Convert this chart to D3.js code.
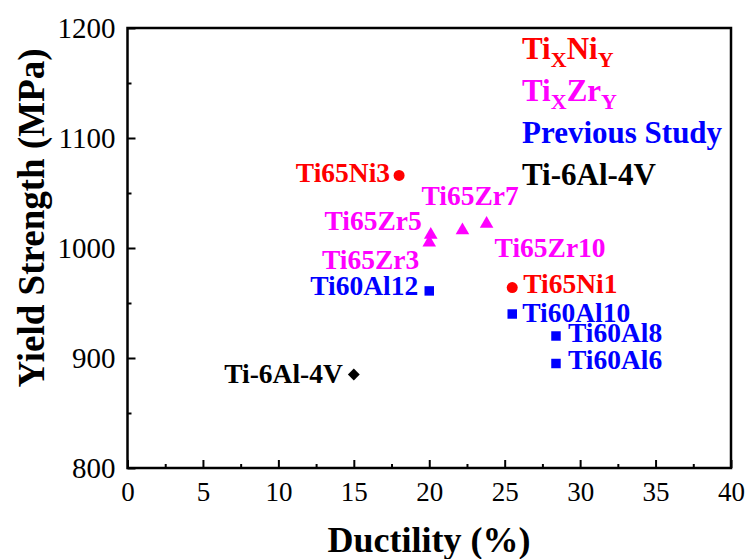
<!DOCTYPE html>
<html>
<head>
<meta charset="utf-8">
<script src="https://cdn.jsdelivr.net/npm/d3@7"></script>
<style>
  text, tspan { font-family: 'Liberation Serif', 'Times New Roman', serif !important; }
</style>
</head>
<body style="margin:0">
<svg id="canvas" width="746" height="559"></svg>
<script>
// data
const names    = ['Ti65Ni3', 'Ti65Ni1', 'Ti65Zr3', 'Ti65Zr5', 'Ti65Zr7', 'Ti65Zr10',
                  'Ti60Al12', 'Ti60Al10', 'Ti60Al8', 'Ti60Al6', 'Ti-6Al-4V'];
const groups   = ['Ni', 'Ni', 'Zr', 'Zr', 'Zr', 'Zr', 'Al', 'Al', 'Al', 'Al', 'Ref'];
const ductility = [18.0, 25.5, 20.0, 20.1, 22.2, 23.8, 20.0, 25.5, 28.4, 28.4, 15.0];
const strength  = [1066, 964, 1005, 1012, 1016, 1022, 961, 940, 920, 895, 885];

const xTicks = [0, 5, 10, 15, 20, 25, 30, 35, 40];
const yTicks = [800, 900, 1000, 1100, 1200];

const FONT = 'Liberation Serif';

// styles per group
const groupColor  = { Ni: '#ff0000', Zr: '#ff00ff', Al: '#0000ff', Ref: '#000000' };
const groupSymbol = { Ni: d3.symbolCircle, Zr: d3.symbolTriangle, Al: d3.symbolSquare, Ref: d3.symbolSquare };
const groupSize   = { Ni: 95, Zr: 80, Al: 90, Ref: 70 };
const groupRotate = { Ni: 0, Zr: 0, Al: 0, Ref: 45 };

// label placement around each marker: [anchor, dx, dy]
const labelPos = {
    'Ti65Ni3':  ['end', -9, 7],
    'Ti65Ni1':  ['start', 11, 5],
    'Ti65Zr3':  ['end', -10, 26],
    'Ti65Zr5':  ['end', -9, -5],
    'Ti65Zr7':  ['start', -41, -25],
    'Ti65Zr10': ['start', 8, 33],
    'Ti60Al12': ['end', -11, 4],
    'Ti60Al10': ['start', 10, 8],
    'Ti60Al8':  ['start', 12, 6],
    'Ti60Al6':  ['start', 12, 5],
    'Ti-6Al-4V': ['end', -11, 8]
};

const svg = d3.select('#canvas').attr('font-family', FONT);
const margin = { left: 127.5, right: 731, top: 28, bottom: 468 };

const x = d3.scaleLinear().domain([0, 40]).range([margin.left, margin.right]);
const y = d3.scaleLinear().domain([800, 1200]).range([margin.bottom, margin.top]);

// minor ticks (inward, no labels)
svg.append('g')
    .attr('transform', `translate(0,${margin.bottom})`)
    .call(d3.axisBottom(x).tickValues(d3.range(2.5, 40, 5)).tickSize(-4).tickFormat(''))
    .call(g => g.select('.domain').remove())
    .selectAll('line').attr('stroke-width', 2);
svg.append('g')
    .attr('transform', `translate(${margin.left},0)`)
    .call(d3.axisLeft(y).tickValues(d3.range(850, 1200, 100)).tickSize(-4).tickFormat(''))
    .call(g => g.select('.domain').remove())
    .selectAll('line').attr('stroke-width', 2);

// major ticks
const xAxis = svg.append('g')
    .attr('transform', `translate(0,${margin.bottom})`)
    .call(d3.axisBottom(x).tickValues(xTicks).tickFormat(d3.format('d'))
        .tickSizeInner(-8).tickSizeOuter(0).tickPadding(14))
    .attr('font-family', FONT).attr('font-size', 27);
xAxis.select('.domain').remove();
xAxis.selectAll('line').attr('stroke-width', 2);
xAxis.selectAll('text').attr('fill', '#000');

const yAxis = svg.append('g')
    .attr('transform', `translate(${margin.left},0)`)
    .call(d3.axisLeft(y).tickValues(yTicks).tickFormat(d3.format('d'))
        .tickSizeInner(-8).tickSizeOuter(0).tickPadding(12))
    .attr('font-family', FONT).attr('font-size', 29);
yAxis.select('.domain').remove();
yAxis.selectAll('line').attr('stroke-width', 2);
yAxis.selectAll('text').attr('fill', '#000');

// frame
svg.append('rect')
    .attr('x', margin.left).attr('y', margin.top)
    .attr('width', margin.right - margin.left)
    .attr('height', margin.bottom - margin.top)
    .attr('fill', 'none').attr('stroke', '#000').attr('stroke-width', 2.5);

// axis titles
svg.append('text')
    .attr('x', 429).attr('y', 552)
    .attr('text-anchor', 'middle')
    .attr('font-size', 36).attr('font-weight', 'bold')
    .text('Ductility (%)');
svg.append('text')
    .attr('transform', 'translate(44,218) rotate(-90)')
    .attr('text-anchor', 'middle')
    .attr('font-size', 37).attr('font-weight', 'bold')
    .text('Yield Strength (MPa)');

// points
const points = names.map((n, i) => ({ name: n, group: groups[i], x: ductility[i], y: strength[i] }));

const pt = svg.append('g').selectAll('g')
    .data(points)
    .join('g')
    .attr('transform', d => `translate(${x(d.x)},${y(d.y)})`);

pt.append('path')
    .attr('d', d => d3.symbol(groupSymbol[d.group], groupSize[d.group])())
    .attr('transform', d => `rotate(${groupRotate[d.group]})`)
    .attr('fill', d => groupColor[d.group]);

pt.append('text')
    .attr('text-anchor', d => labelPos[d.name][0])
    .attr('x', d => labelPos[d.name][1])
    .attr('y', d => labelPos[d.name][2])
    .attr('font-size', 27.5).attr('font-weight', 'bold')
    .attr('fill', d => groupColor[d.group])
    .text(d => d.name);

// legend (text only)
const legend = svg.append('g').attr('font-weight', 'bold').attr('font-size', 31);
const legendRows = [
    { color: groupColor.Ni, parts: [['Ti'], ['X', true], ['Ni'], ['Y', true]] },
    { color: groupColor.Zr, parts: [['Ti'], ['X', true], ['Zr'], ['Y', true]] },
    { color: groupColor.Al, parts: [['Previous Study']] },
    { color: groupColor.Ref, parts: [['Ti-6Al-4V']] }
];
legendRows.forEach((row, i) => {
    const t = legend.append('text')
        .attr('x', 522).attr('y', 59 + i * 42)
        .attr('fill', row.color);
    row.parts.forEach(([s, sub], j) => {
        const prevSub = j > 0 && row.parts[j - 1][1];
        t.append('tspan')
            .attr('font-size', sub ? 22 : 31)
            .attr('dy', sub ? 8 : (prevSub ? -8 : 0))
            .text(s);
    });
});
</script>
</body>
</html>
